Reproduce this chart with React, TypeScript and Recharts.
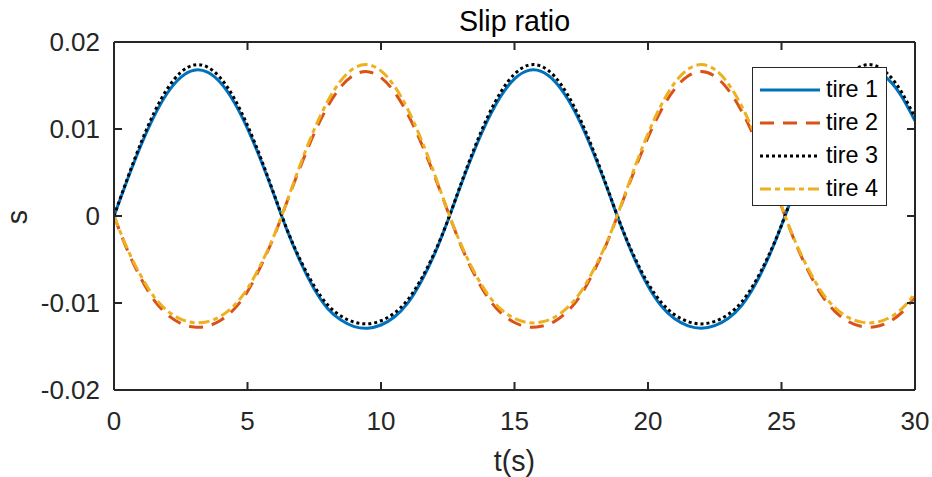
import React from 'react';
import { LineChart, Line, XAxis, YAxis, Label, Legend } from 'recharts';

// time samples (s)
const time = [
  0, 0.5, 1, 1.5, 2, 2.5, 3, 3.5, 4, 4.5, 5, 5.5, 6, 6.5, 7, 7.5, 8, 8.5, 9, 9.5,
  10, 10.5, 11, 11.5, 12, 12.5, 13, 13.5, 14, 14.5, 15, 15.5, 16, 16.5, 17, 17.5, 18, 18.5, 19, 19.5,
  20, 20.5, 21, 21.5, 22, 22.5, 23, 23.5, 24, 24.5, 25, 25.5, 26, 26.5, 27, 27.5, 28, 28.5, 29, 29.5, 30,
];

// slip ratio
const tire1 = [
  0, 0.00416, 0.00805, 0.01145, 0.01414, 0.01594, 0.01676, 0.01653, 0.01528, 0.01307, 0.01005, 0.00641, 0.00237,
  -0.00177, -0.00539, -0.00839, -0.01062, -0.01196, -0.01271, -0.01289, -0.01253, -0.01161, -0.01002, -0.00756,
  -0.00441, -0.00054,
  0.00361, 0.00756, 0.01104, 0.01383, 0.01576, 0.01671, 0.01662, 0.0155, 0.01341, 0.0105, 0.00692, 0.00292,
  -0.00123, -0.00495, -0.00804, -0.01034, -0.01182, -0.01263, -0.0129, -0.0126, -0.01178, -0.01031, -0.00795,
  -0.00485, -0.0011,
  0.00307, 0.00706, 0.01061, 0.0135, 0.01556, 0.01664, 0.01669, 0.01571, 0.01374, 0.01093,
];
const tire2 = [
  0, -0.00392, -0.00712, -0.00966, -0.01134, -0.01234, -0.01276, -0.01265, -0.01198, -0.0107, -0.00867, -0.00577,
  -0.00229,
  0.0018, 0.00582, 0.00949, 0.01256, 0.01486, 0.01623, 0.01659, 0.01592, 0.01426, 0.01171, 0.00844, 0.00464, 0.00055,
  -0.00343, -0.00673, -0.00937, -0.01116, -0.01224, -0.01275, -0.01268, -0.01211, -0.01091, -0.009, -0.0062, -0.00282,
  0.00125, 0.0053, 0.00903, 0.01219, 0.0146, 0.0161, 0.0166, 0.01607, 0.01453, 0.0121, 0.00891, 0.00516, 0.0011,
  -0.00293, -0.00631, -0.00908, -0.01096, -0.01213, -0.0127, -0.01274, -0.01222, -0.01111, -0.00929,
];
const tire3 = [
  0, 0.0043, 0.00834, 0.01186, 0.01464, 0.01651, 0.01736, 0.01712, 0.01582, 0.01354, 0.01041, 0.00664, 0.00246,
  -0.0017, -0.00518, -0.00806, -0.01021, -0.01149, -0.01221, -0.01239, -0.01204, -0.01116, -0.00963, -0.00727,
  -0.00424, -0.00052,
  0.00374, 0.00783, 0.01143, 0.01432, 0.01632, 0.01731, 0.01722, 0.01605, 0.01389, 0.01087, 0.00717, 0.00303,
  -0.00118, -0.00476, -0.00773, -0.00994, -0.01136, -0.01214, -0.0124, -0.01211, -0.01132, -0.00991, -0.00764,
  -0.00466, -0.00105,
  0.00318, 0.00731, 0.01099, 0.01399, 0.01611, 0.01724, 0.01729, 0.01627, 0.01423, 0.01132,
];
const tire4 = [
  0, -0.00376, -0.00684, -0.00929, -0.0109, -0.01186, -0.01226, -0.01215, -0.01151, -0.01028, -0.00833, -0.00555,
  -0.0022,
  0.00188, 0.0061, 0.00995, 0.01317, 0.01557, 0.01701, 0.01739, 0.01668, 0.01494, 0.01228, 0.00884, 0.00486, 0.00058,
  -0.0033, -0.00647, -0.009, -0.01073, -0.01176, -0.01225, -0.01219, -0.01164, -0.01048, -0.00865, -0.00595, -0.00271,
  0.00131, 0.00556, 0.00947, 0.01278, 0.01531, 0.01688, 0.0174, 0.01684, 0.01523, 0.01268, 0.00934, 0.00541, 0.00115,
  -0.00282, -0.00606, -0.00872, -0.01053, -0.01166, -0.0122, -0.01224, -0.01175, -0.01068, -0.00893,
];

const xTicks = [0, 5, 10, 15, 20, 25, 30];
const yTicks = [-0.02, -0.01, 0, 0.01, 0.02];

const series = [
  { key: 'tire1', name: 'tire 1', color: '#0072BD', dash: undefined },
  { key: 'tire2', name: 'tire 2', color: '#D95319', dash: '14 9' },
  { key: 'tire3', name: 'tire 3', color: '#000000', dash: '3 3' },
  { key: 'tire4', name: 'tire 4', color: '#EDB120', dash: '11 4 5 4' },
];

const data = time.map((t, i) => ({
  t,
  tire1: tire1[i],
  tire2: tire2[i],
  tire3: tire3[i],
  tire4: tire4[i],
}));

const FONT = '"Liberation Sans", Arial, Helvetica, sans-serif';
const INK = '#262626';
const tickStyle = { fontSize: 26, fill: INK, fontFamily: FONT };

const renderLegend = () => (
  <div
    style={{
      width: 133,
      height: 137,
      border: `1.5px solid ${INK}`,
      background: '#fff',
      fontFamily: FONT,
      fontSize: 23.4,
      color: '#000',
      boxSizing: 'content-box',
    }}
  >
    {series.map((s) => (
      <div key={s.key} style={{ position: 'relative', height: 33, top: 5 }}>
        <svg width={64} height={33} style={{ position: 'absolute', left: 6, top: 0 }}>
          <line x1={1} x2={61} y1={17} y2={17} stroke={s.color} strokeWidth={3} strokeDasharray={s.dash} />
        </svg>
        <span style={{ position: 'absolute', left: 73, top: 2, lineHeight: '29px' }}>{s.name}</span>
      </div>
    ))}
  </div>
);

const renderTitle = (props: any) => {
  const vb = props.viewBox;
  return (
    <text x={vb.x + vb.width / 2} y={31} textAnchor="middle" fontSize={28.6} fill="#000" fontFamily={FONT}>
      Slip ratio
    </text>
  );
};

const renderYLabel = (props: any) => {
  const vb = props.viewBox;
  const cy = vb.y + vb.height / 2 + 1;
  return (
    <text
      x={27}
      y={cy}
      transform={`rotate(-90 27 ${cy})`}
      textAnchor="middle"
      fontSize={28.6}
      fill={INK}
      fontFamily={FONT}
    >
      s
    </text>
  );
};

export default function App() {
  return (
    <div style={{ position: 'absolute', left: 0, top: 0, width: 932, height: 477, background: '#fff' }}>
      <LineChart width={932} height={477} data={data} margin={{ top: 41, right: 16, bottom: 0, left: 0 }}>
        <XAxis
          dataKey="t"
          type="number"
          domain={[0, 30]}
          ticks={xTicks}
          interval={0}
          height={87}
          allowDataOverflow
          stroke={INK}
          strokeWidth={2}
          tickSize={-8}
          tickMargin={30}
          tick={tickStyle}
        >
          <Label value="t(s)" position="insideBottom" offset={6} fontSize={28.6} fill={INK} fontFamily={FONT} />
        </XAxis>
        <XAxis
          xAxisId="top"
          orientation="top"
          dataKey="t"
          type="number"
          domain={[0, 30]}
          ticks={xTicks}
          interval={0}
          height={1}
          allowDataOverflow
          stroke={INK}
          strokeWidth={2}
          tickSize={-8}
          tickFormatter={() => ''}
        >
          <Label content={renderTitle} />
        </XAxis>
        <YAxis
          type="number"
          domain={[-0.02, 0.02]}
          ticks={yTicks}
          interval={0}
          width={114}
          allowDataOverflow
          stroke={INK}
          strokeWidth={2}
          tickSize={-8}
          tickMargin={22}
          tick={tickStyle}
        >
          <Label content={renderYLabel} />
        </YAxis>
        <YAxis
          yAxisId="right"
          orientation="right"
          type="number"
          domain={[-0.02, 0.02]}
          ticks={yTicks}
          interval={0}
          width={1}
          allowDataOverflow
          stroke={INK}
          strokeWidth={2}
          tickSize={-8}
          tickFormatter={() => ''}
        />
        {series.map((s) => (
          <Line
            key={s.key}
            dataKey={s.key}
            name={s.name}
            type="natural"
            stroke={s.color}
            strokeWidth={3}
            strokeDasharray={s.dash}
            dot={false}
            activeDot={false}
            isAnimationActive={false}
          />
        ))}
        <Legend
          content={renderLegend}
          layout="vertical"
          align="center"
          verticalAlign="middle"
          wrapperStyle={{ left: 752, top: 67, width: 136, height: 140 }}
        />
      </LineChart>
    </div>
  );
}
